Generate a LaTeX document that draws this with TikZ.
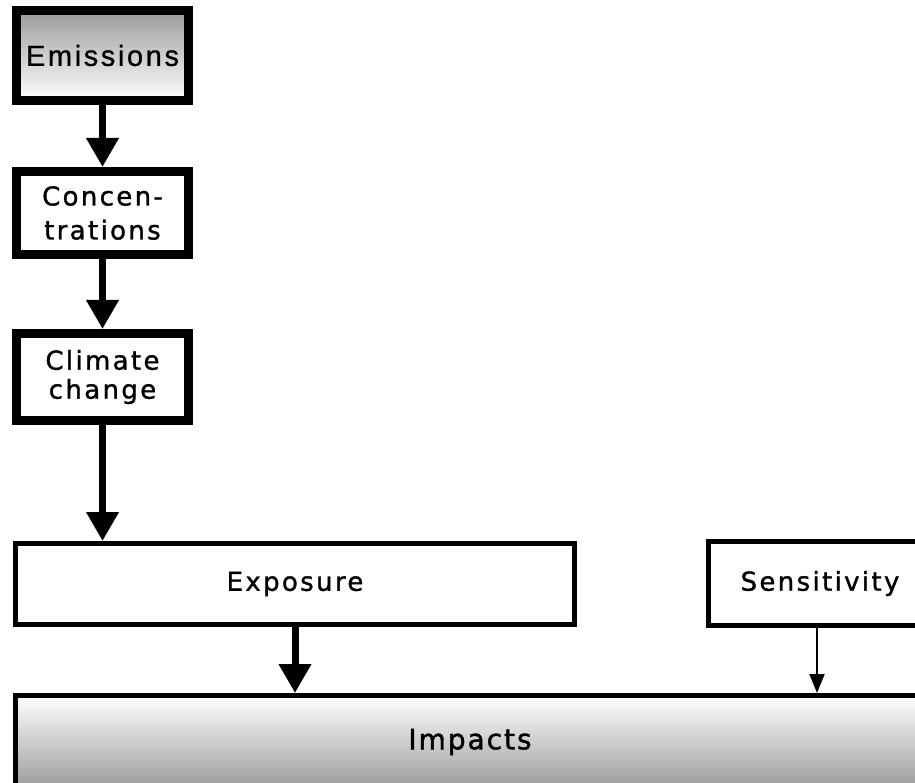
\documentclass[tikz,border=0pt]{standalone}
\usepackage{fontspec}
\usetikzlibrary{arrows.meta}
\newfontfamily\vfont[LetterSpace=9,FakeBold=1.2]{DejaVu Sans}
\newfontfamily\ifont[LetterSpace=7,FakeBold=1.5]{DejaVu Sans}
\newfontfamily\afont[LetterSpace=9,FakeBold=0.8]{Liberation Sans}
\definecolor{shgray}{RGB}{155,155,155}
\tikzset{
  thickbox/.style={draw=black, line width=9pt, inner sep=0pt, minimum width=172pt, align=center,
    font=\vfont\fontsize{26}{31}\selectfont},
  thinbox/.style={draw=black, line width=5pt, inner sep=0pt, align=center,
    font=\vfont\fontsize{26}{31}\selectfont},
  bigarrow/.style={line width=7pt, -{Triangle[width=31pt,length=29pt]}},
  smallarrow/.style={line width=2pt, -{Triangle[width=15pt,length=19pt]}}
}
\begin{document}
\begin{tikzpicture}[x=1pt,y=-1pt]
\useasboundingbox (0,0) rectangle (915,783);
\clip (0,0) rectangle (915,783);
\fill[white] (0,0) rectangle (915,783);
\node[thickbox, minimum height=90pt, top color=shgray, bottom color=white,
      font=\afont\fontsize{29}{32}\selectfont] (em) at (102.5,55.5) {Emissions};
\node[thickbox, minimum height=83pt, fill=white, font=\vfont\fontsize{26}{34}\selectfont] (co) at (102.5,213) {Concen-\\trations};
\node[thickbox, minimum height=87pt, fill=white, font=\vfont\fontsize{26}{29}\selectfont] (cl) at (102.5,377) {Climate\\change};
\node[thinbox, minimum width=559pt, minimum height=81pt, fill=white] (ex) at (295,584) {Exposure};
\node[thinbox, minimum width=223pt, minimum height=84pt, fill=white] (se) at (820,583.5) {Sensitivity};
\node[thinbox, minimum width=909pt, minimum height=93pt, top color=white, bottom color=shgray,
      font=\ifont\fontsize{28}{32}\selectfont] (im) at (470,742) {Impacts};
\coordinate (exin) at (cl.south |- ex.north);
\draw[bigarrow] (em.south) -- (co.north);
\draw[bigarrow] (co.south) -- (cl.north);
\draw[bigarrow] (cl.south) -- (exin);
\coordinate (imin1) at (ex.south |- im.north);
\coordinate (imin2) at ([xshift=-3pt]se.south |- im.north);
\draw[bigarrow] (ex.south) -- (imin1);
\draw[smallarrow] ([xshift=-3pt]se.south) -- (imin2);
\end{tikzpicture}
\end{document}
